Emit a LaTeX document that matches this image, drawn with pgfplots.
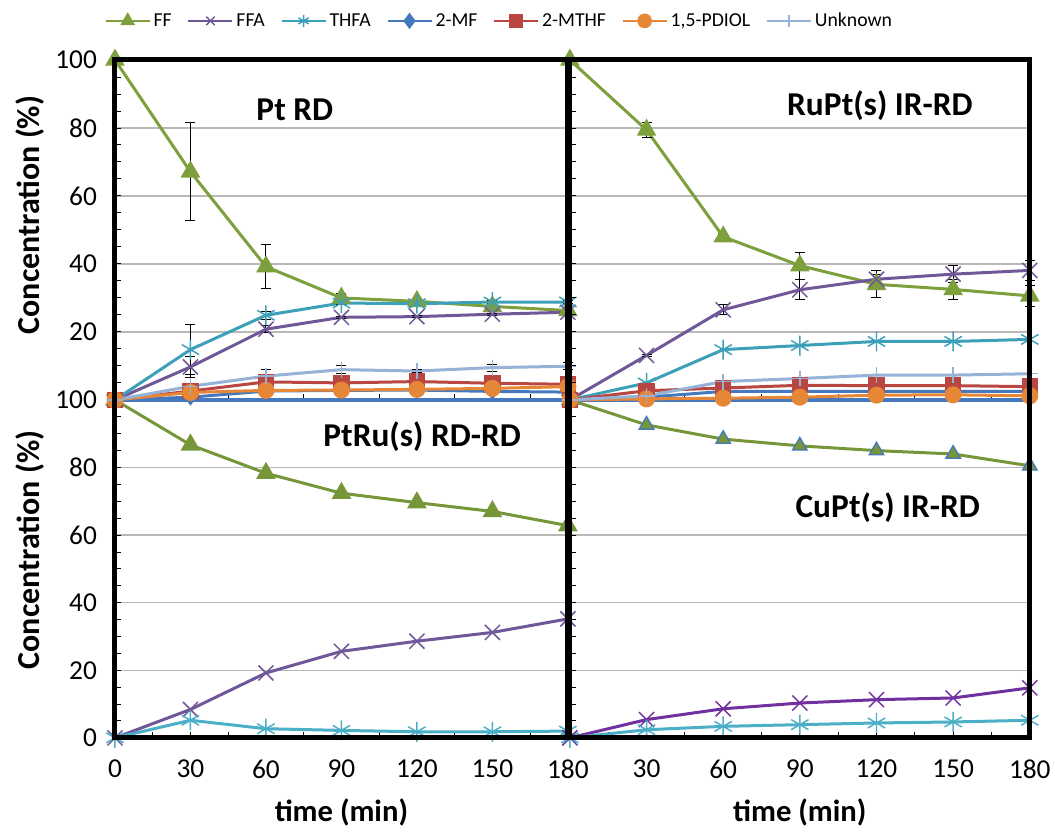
\documentclass[border=0pt]{standalone}
\usepackage{pgfplots}
\pgfplotsset{compat=1.18}
\usepackage{fontspec}
\setmainfont{Carlito}

\definecolor{cFF}{RGB}{125,160,60}
\definecolor{cFF2}{RGB}{118,150,58}
\definecolor{cFFA}{RGB}{112,88,152}
\definecolor{cFFA2}{RGB}{112,48,160}
\definecolor{cTHFA}{RGB}{60,160,185}
\definecolor{cTHFA2}{RGB}{75,175,200}
\definecolor{cMF}{RGB}{70,120,190}
\definecolor{cMTHF}{RGB}{185,70,65}
\definecolor{cPD}{RGB}{230,135,55}
\definecolor{cUN}{RGB}{150,178,215}

\pgfplotsset{
  panel/.style={
    scale only axis, clip=false,
    xmin=0, xmax=180, ymin=0, ymax=100,
    axis line style={draw=none},
    xtick={0,30,...,180}, ytick={0,20,...,100},
    minor x tick num=1, minor y tick num=3,
    tick pos=left, tick align=inside,
    major tick length=4.5pt, minor tick length=4.5pt,
    every tick/.style={black, line width=0.7pt},
    ymajorgrids, grid style={black!28, line width=1pt},
    xticklabels={}, yticklabels={},
    /pgf/number format/assume math mode=true,
    tick label style={font=\fontsize{20.5}{21}\selectfont},
    yticklabel style={xshift=-10pt},
    xticklabel style={yshift=-13pt},
    ylabel style={font=\fontsize{24}{24}\selectfont\bfseries, anchor=center},
    xlabel style={font=\fontsize{23}{23}\selectfont\bfseries, anchor=center, at={(axis description cs:0.5,-0.222)}},
  },
  ser/.style={line width=2.25pt, mark options={solid}},
  errb/.style={error bars/.cd, y dir=both, y explicit,
    error bar style={black, line width=0.75pt},
    error mark options={rotate=90, black, mark size=3.75pt, line width=0.75pt}},
  sFF/.style={ser, color=cFF, mark=triangle*, mark size=6.3pt},
  sFFA/.style={ser, color=cFFA, mark=x, mark size=8pt, mark options={line width=1.1pt}},
  sTHFA/.style={ser, color=cTHFA, mark=asterisk, mark size=7.5pt, mark options={line width=1.1pt}},
  sMF/.style={ser, color=cMF, mark=diamond*, mark size=4.5pt},
  sMTHF/.style={ser, color=cMTHF, mark=square*, mark size=5pt},
  sPD/.style={ser, color=cPD, mark=*, mark size=5.25pt},
  sUN/.style={ser, color=cUN, mark=+, mark size=6pt, mark options={line width=1.1pt}},
}

\begin{document}
\begin{tikzpicture}
\path (0,0) rectangle (791.25pt,623.25pt);

% ---------------- bottom left: PtRu(s) RD-RD
\begin{axis}[panel, name=bl, at={(86.25pt,69.75pt)}, anchor=south west,
  width=339.75pt, height=253.5pt,
  yticklabels={0,20,40,60,80,100},
  xticklabels={0,30,60,90,120,150,180},
  ylabel={Concentration (\%)},
  ylabel style={at={(axis description cs:-0.188,0.556)}},
  xlabel={time (min)}]
\addplot[sFF, color=cFF2] coordinates {(0,100)(30,86.7)(60,78.3)(90,72.4)(120,69.6)(150,67.0)(180,62.8)};
\addplot[sFFA] coordinates {(0,0)(30,8.4)(60,19.2)(90,25.6)(120,28.6)(150,31.2)(180,35.2)};
\addplot[sTHFA, color=cTHFA2] coordinates {(0,0)(30,5.2)(60,2.7)(90,2.2)(120,1.8)(150,1.8)(180,2.0)};
\node[font=\fontsize{25}{25}\selectfont\bfseries] at (axis description cs:0.678,0.89) {PtRu(s) RD-RD};
\end{axis}

% ---------------- bottom right: CuPt(s) IR-RD
\begin{axis}[panel, name=br, at={(427.5pt,69.75pt)}, anchor=south west,
  width=345pt, height=253.5pt,
  xticklabels={,30,60,90,120,150,180},
  xlabel={time (min)}]
\addplot[sFF, color=cFF2, mark options={fill=cFF2, draw=cMF, line width=1pt}] coordinates {(0,100)(30,92.6)(60,88.4)(90,86.4)(120,85.0)(150,84.0)(180,80.5)};
\addplot[sFFA, color=cFFA2] coordinates {(0,0)(30,5.4)(60,8.6)(90,10.3)(120,11.3)(150,11.8)(180,14.8)};
\addplot[sTHFA, color=cTHFA2] coordinates {(0,0)(30,2.4)(60,3.4)(90,3.9)(120,4.4)(150,4.7)(180,5.2)};
\node[font=\fontsize{25}{25}\selectfont\bfseries] at (axis description cs:0.691,0.68) {CuPt(s) IR-RD};
\end{axis}

% ---------------- top left: Pt RD
\begin{axis}[panel, name=tl, at={(86.25pt,323.25pt)}, anchor=south west,
  width=339.75pt, height=255pt,
  yticklabels={,20,40,60,80,100},
  ylabel={Concentration (\%)},
  ylabel style={at={(axis description cs:-0.188,0.544)}},
  legend columns=7,
  legend style={at={(axis description cs:-0.024,1.115)}, anchor=west,
    draw=none, fill=none, inner sep=0pt,
    font=\fontsize{14.8}{15}\selectfont,
    nodes={inner sep=2pt},
    /tikz/every even column/.append style={column sep=9.5pt}},
  legend image code/.code={\draw[mark repeat=2, mark phase=2] plot coordinates {(0pt,0pt) (16.5pt,0pt) (33pt,0pt)};},
  legend image post style={mark size=4.5pt, line width=2pt},
  ]
\draw[cMF, line width=2.6pt] (axis cs:0,0) -- (axis cs:180,0);
\addplot[sFF, errb] coordinates {(0,100)+-(0,0) (30,67.1)+-(0,14.4) (60,39.2)+-(0,6.5) (90,30.0)+-(0,1.2) (120,29.0)+-(0,0.8) (150,27.5)+-(0,0.6) (180,26.3)+-(0,0.5)};
\addlegendentry{FF}
\addplot[sFFA, errb] coordinates {(0,0)+-(0,0) (30,9.7)+-(0,3) (60,20.8)+-(0,1) (90,24.3)+-(0,0.3) (120,24.5)+-(0,0.3) (150,25.2)+-(0,0.3) (180,25.8)+-(0,0.3)};
\addlegendentry{FFA}
\addplot[sTHFA, errb] coordinates {(0,0)+-(0,0) (30,14.8)+-(0,7.3) (60,24.9)+-(0,1.2) (90,28.5)+-(0,0.4) (120,28.3)+-(0,0.4) (150,28.8)+-(0,0.4) (180,28.8)+-(0,0.3)};
\addlegendentry{THFA}
\addplot[sMF] coordinates {(0,0)(30,0.8)(60,2.6)(90,2.8)(120,2.9)(150,2.5)(180,2.3)};
\addlegendentry{2-MF}
\addplot[sMTHF] coordinates {(0,0)(30,2.6)(60,5.3)(90,5.0)(120,5.4)(150,4.9)(180,4.6)};
\addlegendentry{2-MTHF}
\addplot[sPD] coordinates {(0,0)(30,2.2)(60,2.8)(90,2.9)(120,3.1)(150,3.4)(180,3.9)};
\addlegendentry{1,5-PDIOL}
\addplot[sUN, errb] coordinates {(0,0)+-(0,0) (30,4.0)+-(0,0.5) (60,7.0)+-(0,1.8) (90,8.9)+-(0,1.2) (120,8.5)+-(0,0.3) (150,9.5)+-(0,1) (180,9.9)+-(0,1)};
\addlegendentry{Unknown}
\node[font=\fontsize{25}{25}\selectfont\bfseries] at (axis description cs:0.397,0.853) {Pt RD};
\end{axis}

% ---------------- top right: RuPt(s) IR-RD
\begin{axis}[panel, name=tr, at={(427.5pt,323.25pt)}, anchor=south west,
  width=345pt, height=255pt]
\draw[cMF, line width=2.6pt] (axis cs:0,0) -- (axis cs:180,0);
\addplot[sFF, errb] coordinates {(0,100)+-(0,0) (30,79.4)+-(0,2.2) (60,48.0)+-(0,1) (90,39.5)+-(0,4) (120,34.0)+-(0,4) (150,32.5)+-(0,3) (180,30.6)+-(0,3)};
\addplot[sFFA, errb] coordinates {(0,0)+-(0,0) (30,13.1)+-(0,0.3) (60,26.5)+-(0,1.5) (90,32.4)+-(0,3) (120,35.5)+-(0,1.5) (150,37.0)+-(0,2.5) (180,38.1)+-(0,3)};
\addplot[sTHFA] coordinates {(0,0)(30,5.0)(60,14.8)(90,16.0)(120,17.2)(150,17.2)(180,17.8)};
\addplot[sMF] coordinates {(0,0)(30,0.8)(60,2.5)(90,2.5)(120,2.5)(150,2.5)(180,2.5)};
\addplot[sMTHF] coordinates {(0,0)(30,2.7)(60,3.5)(90,4.3)(120,4.2)(150,4.2)(180,3.9)};
\addplot[sPD] coordinates {(0,0)(30,0.3)(60,0.5)(90,0.8)(120,1.4)(150,1.5)(180,1.2)};
\addplot[sUN] coordinates {(0,0)(30,1.2)(60,5.4)(90,6.3)(120,7.3)(150,7.3)(180,7.7)};
\node[font=\fontsize{25}{25}\selectfont\bfseries] at (axis description cs:0.674,0.865) {RuPt(s) IR-RD};
\end{axis}

% frames
\draw[line width=3.75pt, line join=miter] (tl.north west) rectangle (bl.south east);
\draw[line width=3.75pt, line join=miter] (tr.north west) rectangle (br.south east);
\end{tikzpicture}
\end{document}
